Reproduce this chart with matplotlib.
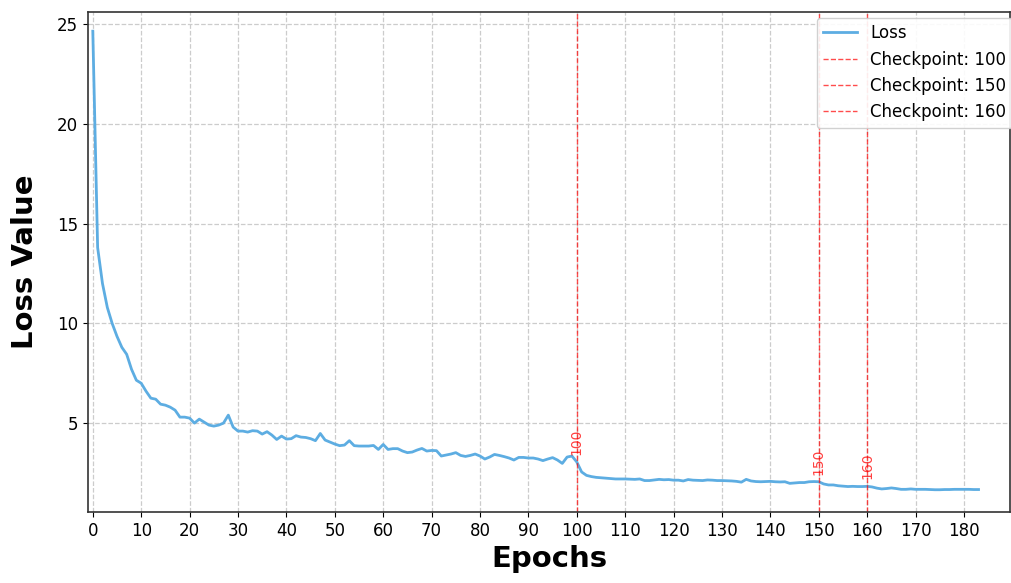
import matplotlib
matplotlib.use("Agg")
import matplotlib.pyplot as plt

# loss per epoch
loss = [
    24.65, 13.8, 12.0, 10.8, 10.0, 9.35, 8.8, 8.45, 7.7, 7.15,
    7.0, 6.6, 6.25, 6.2, 5.95, 5.9, 5.8, 5.65, 5.3, 5.3,
    5.25, 5.0, 5.2, 5.05, 4.9, 4.85, 4.9, 5.0, 5.4, 4.8,
    4.6, 4.6, 4.55, 4.62, 4.6, 4.45, 4.57, 4.4, 4.18, 4.35,
    4.2, 4.22, 4.37, 4.3, 4.28, 4.22, 4.12, 4.48, 4.15, 4.05,
    3.95, 3.87, 3.9, 4.12, 3.87, 3.85, 3.85, 3.85, 3.88, 3.68,
    3.93, 3.68, 3.72, 3.72, 3.6, 3.52, 3.55, 3.65, 3.73, 3.6,
    3.63, 3.62, 3.35, 3.4, 3.45, 3.52, 3.38, 3.33, 3.38, 3.45,
    3.35, 3.2, 3.3, 3.43, 3.38, 3.32, 3.25, 3.15, 3.28, 3.28,
    3.25, 3.25, 3.2, 3.12, 3.2, 3.27, 3.15, 2.98, 3.3, 3.35,
    3.05, 2.55, 2.38, 2.32, 2.28, 2.26, 2.24, 2.22, 2.2, 2.2,
    2.2, 2.19, 2.18, 2.2, 2.12, 2.12, 2.15, 2.18, 2.16, 2.17,
    2.14, 2.14, 2.1, 2.17, 2.14, 2.13, 2.12, 2.15, 2.14, 2.12,
    2.12, 2.11, 2.1, 2.08, 2.04, 2.18, 2.1, 2.07, 2.06, 2.07,
    2.08, 2.06, 2.05, 2.06, 1.98, 2.0, 2.02, 2.02, 2.06, 2.07,
    2.06, 1.95, 1.9, 1.9, 1.86, 1.84, 1.82, 1.83, 1.82, 1.82,
    1.83, 1.8, 1.74, 1.7, 1.72, 1.75, 1.72, 1.68, 1.68, 1.7,
    1.68, 1.68, 1.68, 1.67, 1.66, 1.66, 1.67, 1.67, 1.68, 1.68,
    1.68, 1.68, 1.67, 1.67,
]
epochs = list(range(len(loss)))
checkpoints = [100, 150, 160]

fig = plt.figure(figsize=(10.11, 5.83), dpi=100)
ax = fig.add_axes([0.087, 0.122, 0.912, 0.857])

ax.plot(epochs, loss, color="#5DADE2", linewidth=2, label="Loss")

for cp in checkpoints:
    ax.axvline(cp, color="red", linestyle="--", linewidth=1, alpha=0.7,
               label=f"Checkpoint: {cp}")
    ax.text(cp, loss[cp] + 0.35, str(cp), rotation=90, color="red",
            fontsize=10, ha="center", va="bottom", alpha=0.75)

ax.set_xlim(-1, 189.5)
ax.set_ylim(0.55, 25.6)
ax.set_xticks(range(0, 181, 10))
ax.set_yticks([5, 10, 15, 20, 25])
ax.tick_params(labelsize=12)
ax.grid(True, linestyle="--", color="#cccccc", linewidth=0.9)

for s in ax.spines.values():
    s.set_color("#333333")
    s.set_linewidth(1.2)

ax.set_xlabel("Epochs", fontsize=21, fontweight="bold")
ax.set_ylabel("Loss Value", fontsize=21, fontweight="bold", labelpad=13)

ax.legend(loc="upper right", fontsize=12, framealpha=0.9,
          bbox_to_anchor=(1.012, 1.006))

fig.savefig("out.png", dpi=100)
